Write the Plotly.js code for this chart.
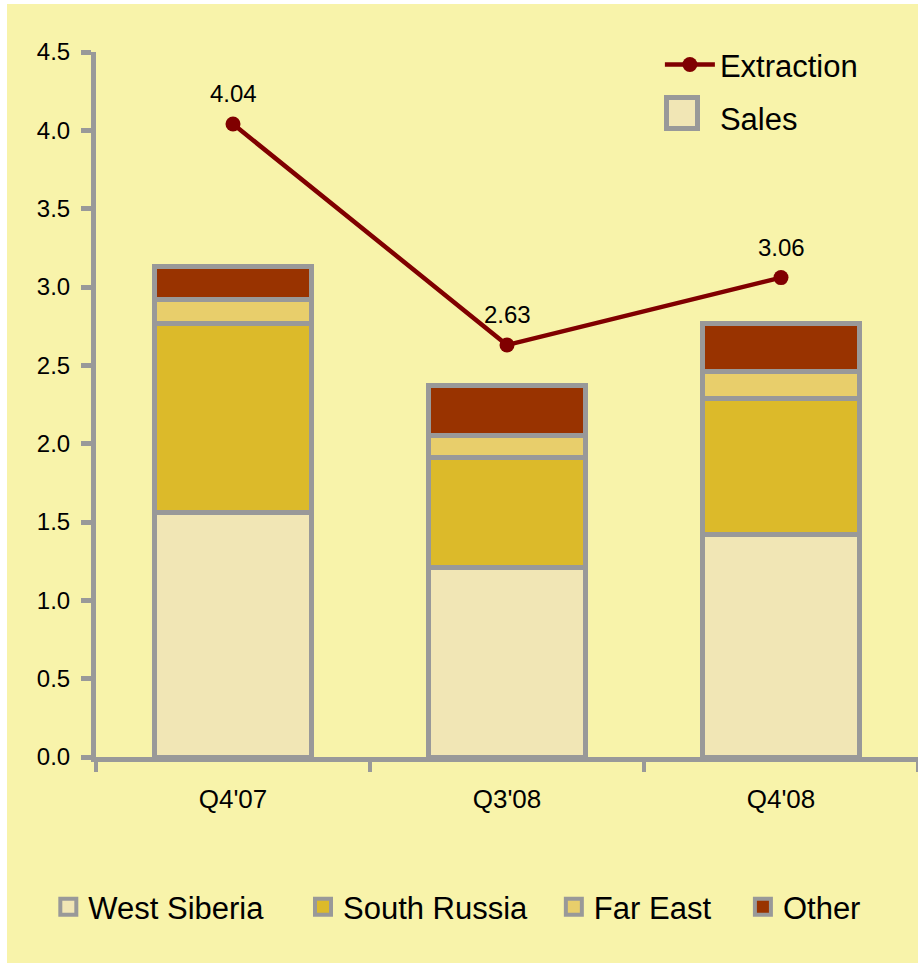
<!DOCTYPE html>
<html>
<head>
<meta charset="utf-8">
<script src="https://cdn.plot.ly/plotly-3.0.1.min.js"></script>
<style>
html,body{margin:0;padding:0;background:#ffffff;width:918px;height:963px;overflow:hidden;}
#chart{position:absolute;left:7px;top:4px;width:911px;height:959px;}
</style>
</head>
<body>
<div id="chart"></div>
<script>
const categories = ["Q4'07", "Q3'08", "Q4'08"];
const regions = ["West Siberia", "South Russia", "Far East", "Other"];
const westSiberia = [1.56, 1.21, 1.42];
const southRussia = [1.21, 0.70, 0.87];
const farEast = [0.15, 0.14, 0.17];
const other = [0.21, 0.32, 0.31];
const extraction = [4.04, 2.63, 3.06];
const extractionLabels = ["4.04", "2.63", "3.06"];

const FONT = "Liberation Sans, Arial, sans-serif";
const BG = "#F8F3AA";
const GRAY = "#999999";
const regionColors = ["#F1E6B5", "#DCBA2A", "#E8CE6B", "#993300"];
const regionValues = [westSiberia, southRussia, farEast, other];
const legendIds = ["legend2", "legend3", "legend4", "legend5"];

const traces = [];
regions.forEach((name, i) => {
  traces.push({
    type: "bar", x: categories, y: regionValues[i], name: name,
    width: 0.57, legendgroup: name, showlegend: false,
    marker: {color: regionColors[i], line: {color: GRAY, width: 5}},
    hoverinfo: "x+y+name"
  });
});
// legend swatches for the regions (bottom legend)
regions.forEach((name, i) => {
  traces.push({
    type: "scatter", mode: "markers", x: [null], y: [null], name: name,
    legendgroup: name, legend: legendIds[i], showlegend: true,
    marker: {symbol: "square", size: 16, color: regionColors[i], line: {color: GRAY, width: 4}},
    hoverinfo: "skip"
  });
});
traces.push({
  type: "scatter", mode: "lines+markers", x: categories, y: extraction,
  name: "Extraction", legend: "legend", legendrank: 1, legendgroup: "ext",
  line: {color: "#800000", width: 4.5},
  marker: {color: "#800000", size: 15}
});
traces.push({
  type: "scatter", mode: "markers", x: [null], y: [null], name: "Sales",
  legend: "legend", legendrank: 2, legendgroup: "sales", showlegend: true,
  marker: {symbol: "square", size: 16, color: "rgba(0,0,0,0)", line: {width: 0}},
  hoverinfo: "skip"
});

const annotations = categories.map((c, i) => ({
  x: c, y: extraction[i], xref: "x", yref: "y",
  text: extractionLabels[i], showarrow: false,
  yanchor: "bottom", yshift: 15,
  font: {family: FONT, size: 24, color: "#000000"}
}));
// large "Sales" legend swatch
annotations.push({
  xref: "paper", yref: "paper", x: 0.7129, y: 0.913,
  xanchor: "center", yanchor: "middle",
  text: " ", showarrow: false, width: 26, height: 26,
  bgcolor: regionColors[0], bordercolor: GRAY, borderwidth: 5, borderpad: 0
});

function bottomLegend(x) {
  return {
    x: x, xanchor: "left", y: -0.213, yanchor: "middle",
    bgcolor: "rgba(0,0,0,0)", borderwidth: 0,
    font: {family: FONT, size: 31, color: "#000000"},
    orientation: "h"
  };
}

const layout = {
  width: 911, height: 959,
  paper_bgcolor: BG, plot_bgcolor: BG,
  margin: {l: 89, r: 0, t: 48, b: 206},
  barmode: "stack",
  showlegend: true,
  font: {family: FONT, color: "#000000"},
  xaxis: {
    type: "category", range: [-0.5, 2.5],
    showline: true, linecolor: GRAY, linewidth: 5,
    ticks: "outside", tickson: "boundaries", ticklen: 10, tickwidth: 4, tickcolor: GRAY,
    tickfont: {family: FONT, size: 26, color: "#000000"},
    ticklabelstandoff: 15,
    showgrid: false, zeroline: false, fixedrange: true
  },
  yaxis: {
    range: [0, 4.5], dtick: 0.5, tick0: 0, tickformat: ".1f",
    showline: true, linecolor: GRAY, linewidth: 5,
    ticks: "outside", ticklen: 10, tickwidth: 5, tickcolor: GRAY,
    tickfont: {family: FONT, size: 24, color: "#000000"},
    ticklabelstandoff: 6,
    showgrid: false, zeroline: false, fixedrange: true
  },
  legend: {
    x: 0.686, xanchor: "left", y: 1.02, yanchor: "top",
    bgcolor: "rgba(0,0,0,0)", borderwidth: 0,
    font: {family: FONT, size: 31, color: "#000000"},
    traceorder: "grouped", itemwidth: 50, tracegroupgap: 10
  },
  legend2: bottomLegend(-0.058),
  legend3: bottomLegend(0.2518),
  legend4: bottomLegend(0.557),
  legend5: bottomLegend(0.787),
  annotations: annotations
};

Plotly.newPlot("chart", traces, layout, {displayModeBar: false, staticPlot: true});
</script>
</body>
</html>
